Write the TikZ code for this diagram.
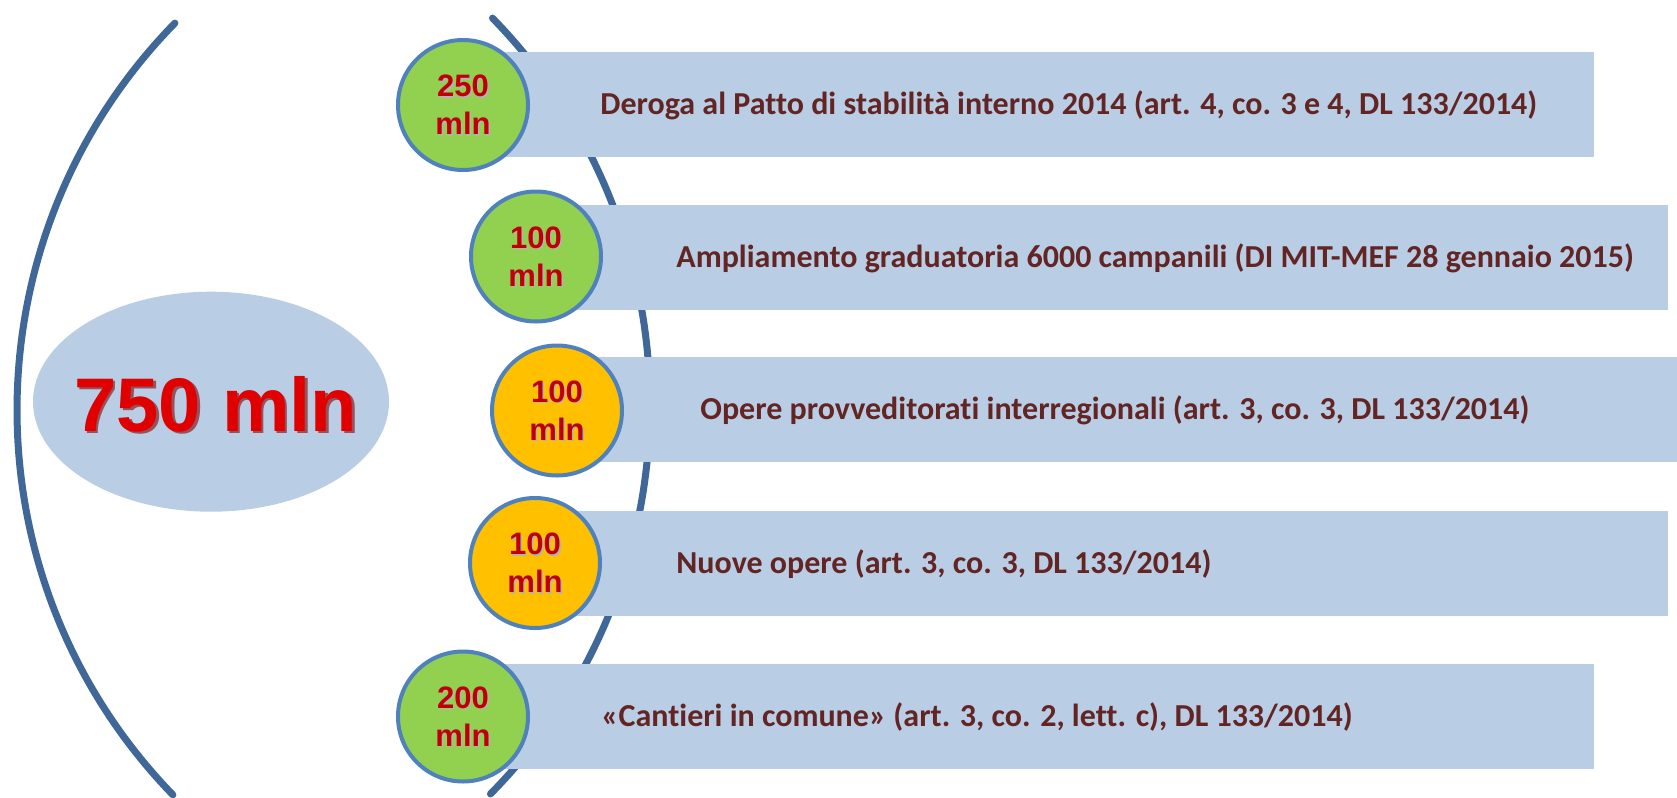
\documentclass[tikz,border=0pt]{standalone}
\usepackage{fontspec}
\setmainfont{Carlito}[Ligatures=NoCommon]
\newfontfamily\numfont{Liberation Sans}
\usetikzlibrary{shapes.geometric}
\definecolor{barblue}{HTML}{B9CDE5}
\definecolor{arcblue}{HTML}{3F6898}
\definecolor{ringblue}{HTML}{4F81BD}
\definecolor{leafgreen}{HTML}{92D050}
\definecolor{amber}{HTML}{FFC000}
\definecolor{numred}{HTML}{C00000}
\definecolor{bigred}{HTML}{E00000}
\definecolor{txtbrown}{HTML}{632523}
\begin{document}
\begin{tikzpicture}[x=0.5pt,y=-0.5pt,
  arcline/.style={draw=arcblue, line width=3.5pt, line cap=round},
  bar/.style={rectangle, fill=barblue, draw=none, inner sep=0pt, anchor=west, minimum height=52.5pt},
  ring/.style={circle, draw=ringblue, line width=2pt, minimum size=65pt, inner sep=0pt},
  num/.style={font=\numfont\bfseries\fontsize{15.5}{19}\selectfont, text=numred, align=center, inner sep=0pt},
  numshadow/.style={num, text=black!30},
  lbl/.style={font=\bfseries\fontsize{16}{18}\selectfont, text=txtbrown, inner sep=0pt, anchor=base west}
]
\useasboundingbox (0,0) rectangle (1677,798);
% arcs
\draw[arcline] (570,410) ++(135.9:553) arc[start angle=135.9, end angle=224.4, radius=553];
\draw[arcline] (96,405) ++(-44.3:554) arc[start angle=-44.3, end angle=44.6, radius=554];
% hub ellipse
\node[ellipse, fill=barblue, minimum width=178pt, minimum height=110pt, inner sep=0pt] (hub) at (211,401.7) {};
\node[font=\numfont\bfseries\fontsize{38}{40}\selectfont, text=red!50!black, opacity=0.6, inner sep=0pt] (hubshadow) at (218.5,406.5) {750 mln};
\node[font=\numfont\bfseries\fontsize{38}{40}\selectfont, text=bigred, inner sep=0pt] (total) at (216,404) {750 mln};
% bars
\node[bar, minimum width=565.5pt] (b1) at (463,104.5) {};
\node[bar, minimum width=566pt] (b2) at (536,257.5) {};
\node[bar, minimum width=560pt] (b3) at (557,409.5) {};
\node[bar, minimum width=566.5pt] (b4) at (535,563) {};
\node[bar, minimum width=565.5pt] (b5) at (463,716.5) {};
% bar texts
\node[lbl] (t1) at (600,114.5) {Deroga al Patto di stabilità interno 2014 (art. 4, co. 3 e 4, DL 133/2014)};
\node[lbl] (t2) at (676,267.5) {Ampliamento graduatoria 6000 campanili (DI MIT-MEF 28 gennaio 2015)};
\node[lbl] (t3) at (700,419.5) {Opere provveditorati interregionali (art. 3, co. 3, DL 133/2014)};
\node[lbl] (t4) at (676,573) {Nuove opere (art. 3, co. 3, DL 133/2014)};
\node[lbl] (t5) at (601,726.5) {«Cantieri in comune» (art. 3, co. 2, lett. c), DL 133/2014)};
% circles
\node[ring, fill=leafgreen] (c1) at (463,105) {};
\node[ring, fill=leafgreen] (c2) at (536,256.5) {};
\node[ring, fill=amber] (c3) at (557,410.5) {};
\node[ring, fill=amber] (c4) at (535,563) {};
\node[ring, fill=leafgreen] (c5) at (463,716.5) {};
% circle numbers
\node[numshadow] (s1) at ([shift={(1.5,1.5)}]c1) {250\\mln};
\node[num] (n1) at (c1) {250\\mln};
\node[numshadow] (s2) at ([shift={(1.5,1.5)}]c2) {100\\mln};
\node[num] (n2) at (c2) {100\\mln};
\node[numshadow] (s3) at ([shift={(1.5,1.5)}]c3) {100\\mln};
\node[num] (n3) at (c3) {100\\mln};
\node[numshadow] (s4) at ([shift={(1.5,1.5)}]c4) {100\\mln};
\node[num] (n4) at (c4) {100\\mln};
\node[numshadow] (s5) at ([shift={(1.5,1.5)}]c5) {200\\mln};
\node[num] (n5) at (c5) {200\\mln};
\end{tikzpicture}
\end{document}
